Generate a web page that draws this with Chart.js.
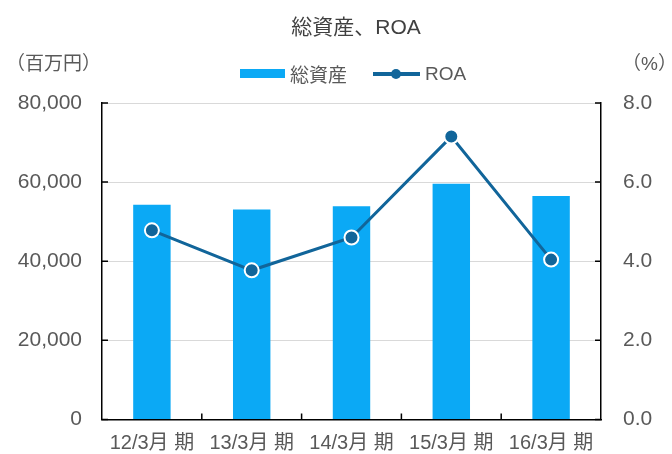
<!DOCTYPE html>
<html>
<head>
<meta charset="utf-8">
<script src="https://cdn.jsdelivr.net/npm/chart.js@4"></script>
<style>
    body { margin: 0; background: #fff; }
    #wrap { position: relative; width: 672px; height: 454px; font-family: "Liberation Sans", Arial, "Noto Sans CJK JP", sans-serif; color: #595959; }
    #wrap canvas { position: absolute; left: 0; top: 0; }
    .lbl { position: absolute; white-space: nowrap; }
    .title { left: 0; width: 712px; top: 10px; text-align: center; font-size: 21px; color: #404040; }
    .unit { top: 48px; font-size: 19px; }
    .legend { top: 60px; left: 240px; font-size: 19px; display: flex; align-items: center; }
    .swatch { width: 45px; height: 9px; background: #0BA9F5; margin-right: 5px; }
    .lineKey { position: relative; width: 47px; height: 4px; background: #11659A; margin-left: 26px; margin-right: 5px; }
    .lineKey span { position: absolute; left: 18px; top: -3px; width: 10px; height: 10px; border-radius: 50%; background: #11659A; }
</style>
</head>
<body>
<div id="wrap">
    <canvas id="chart" width="672" height="454"></canvas>
    <div class="lbl title">総資産、ROA</div>
    <div class="lbl unit" style="left:6px">（百万円）</div>
    <div class="lbl unit" style="left:622px">（%）</div>
    <div class="lbl legend">
        <div class="swatch"></div>総資産
        <div class="lineKey"><span></span></div>ROA
    </div>
</div>
<script>
// data
const periods = ['12/3月 期', '13/3月 期', '14/3月 期', '15/3月 期', '16/3月 期'];
const totalAssets = [54300, 53100, 53900, 59600, 56500];
const roa = [4.78, 3.77, 4.6, 7.15, 4.04];

const gray = '#595959';
const fontFamily = '"Liberation Sans", Arial, "Noto Sans CJK JP", sans-serif';

// short tick marks pointing into the plot, like the original
const innerTicks = {
    id: 'innerTicks',
    afterDraw(chart) {
        const { ctx, chartArea: a, scales } = chart;
        ctx.save();
        ctx.strokeStyle = '#000';
        ctx.lineWidth = 1.5;
        ctx.beginPath();
        scales.y.ticks.forEach(t => {
            const y = scales.y.getPixelForValue(t.value);
            ctx.moveTo(a.left, y); ctx.lineTo(a.left + 6, y);
        });
        scales.y1.ticks.forEach(t => {
            const y = scales.y1.getPixelForValue(t.value);
            ctx.moveTo(a.right, y); ctx.lineTo(a.right - 6, y);
        });
        for (let i = 0; i < periods.length - 1; i++) {
            const x = (scales.x.getPixelForValue(i) + scales.x.getPixelForValue(i + 1)) / 2;
            ctx.moveTo(x, a.bottom); ctx.lineTo(x, a.bottom - 6);
        }
        ctx.stroke();
        ctx.restore();
    }
};

new Chart(document.getElementById('chart'), {
    data: {
        labels: periods,
        datasets: [{
            type: 'line',
            label: 'ROA',
            data: roa,
            yAxisID: 'y1',
            borderColor: '#11659A',
            borderWidth: 3,
            pointRadius: 7,
            pointBackgroundColor: '#11659A',
            pointBorderColor: '#fff',
            pointBorderWidth: 2,
            order: 0
        }, {
            type: 'bar',
            label: '総資産',
            data: totalAssets,
            yAxisID: 'y',
            backgroundColor: '#0BA9F5',
            categoryPercentage: 1,
            barPercentage: 0.375,
            order: 1
        }]
    },
    options: {
        responsive: false,
        animation: false,
        layout: { padding: { top: 103, left: 0, right: 0, bottom: 0 } },
        plugins: { legend: { display: false }, tooltip: { enabled: false }, title: { display: false } },
        scales: {
            x: {
                grid: { display: false },
                border: { color: '#000', width: 1.5 },
                ticks: { color: gray, font: { family: fontFamily, size: 20 }, padding: 4 },
                afterFit: s => { s.height = 34; }
            },
            y: {
                position: 'left',
                min: 0, max: 80000,
                ticks: {
                    stepSize: 20000, color: gray, padding: 20,
                    font: { family: fontFamily, size: 21 },
                    callback: v => v.toLocaleString('en-US')
                },
                grid: { color: '#d9d9d9', lineWidth: 1, drawTicks: false },
                border: { color: '#000', width: 1.5 },
                afterFit: s => { s.width = 102; }
            },
            y1: {
                position: 'right',
                min: 0, max: 8,
                ticks: {
                    stepSize: 2, color: gray, padding: 22,
                    font: { family: fontFamily, size: 21 },
                    callback: v => v.toFixed(1)
                },
                grid: { display: false, drawTicks: false },
                border: { color: '#000', width: 1.5 },
                afterFit: s => { s.width = 71; }
            }
        }
    },
    plugins: [innerTicks]
});
</script>
</body>
</html>
